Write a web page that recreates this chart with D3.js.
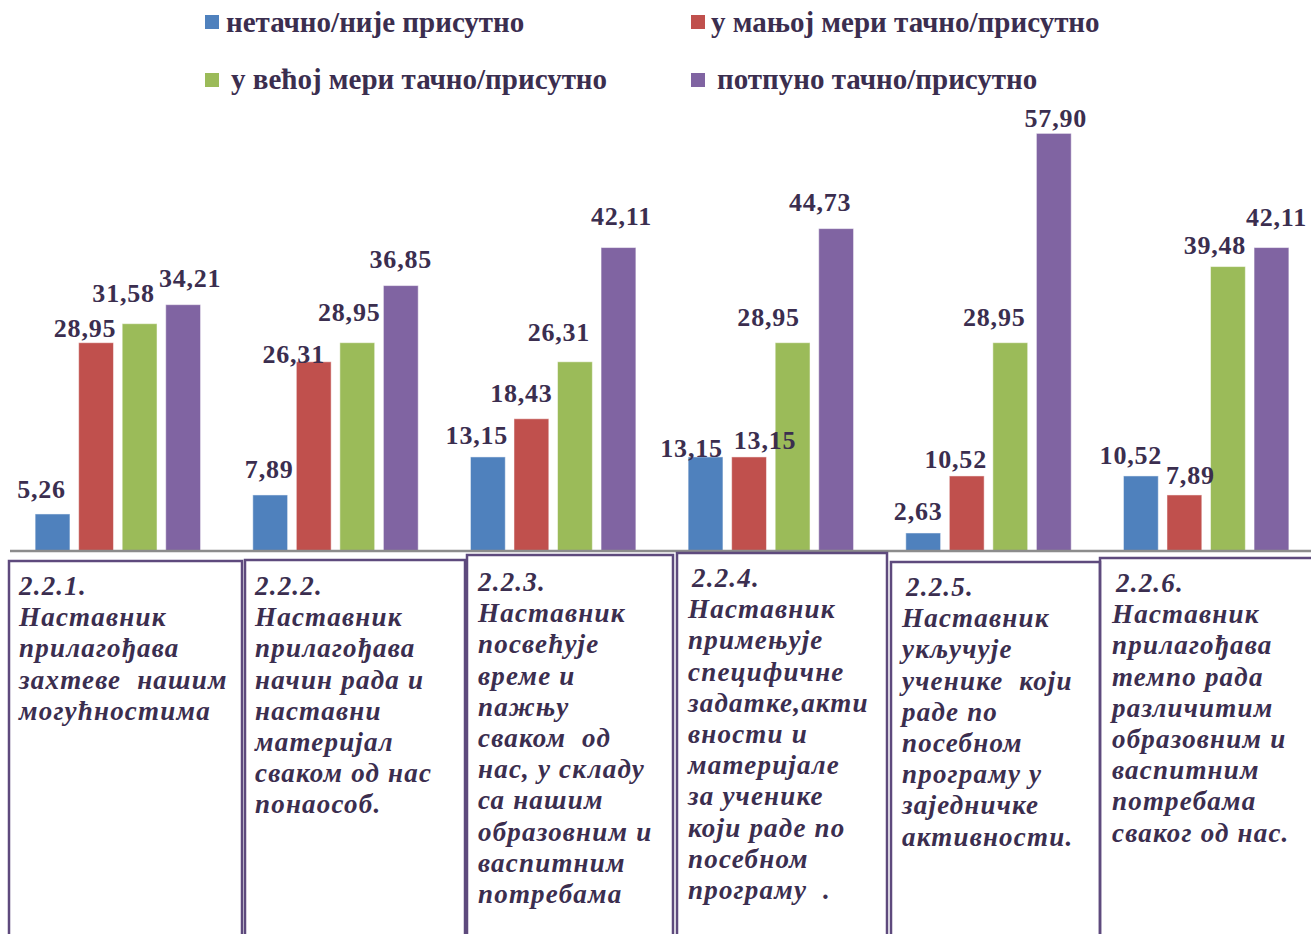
<!DOCTYPE html>
<html lang="ru">
<head>
<meta charset="UTF-8">
<title>Прилагођавање наставе</title>
<script src="https://d3js.org/d3.v7.min.js"></script>
<style>
  body { margin: 0; background: #fff; }
  svg { display: block; }
  text { font-family: "Liberation Serif", "DejaVu Serif", serif; fill: #3b2e4f; }
</style>
</head>
<body>
<svg width="1311" height="934" lang="ru"></svg>
<script>
// categories (item codes) and the four answer series
const categories = ["2.2.1.", "2.2.2.", "2.2.3.", "2.2.4.", "2.2.5.", "2.2.6."];
const seriesNames = [
  "нетачно/није присутно",
  "у мањој мери тачно/присутно",
  "у већој мери тачно/присутно",
  "потпуно тачно/присутно"
];
const netacno  = [5.26, 7.89, 13.15, 13.15, 2.63, 10.52];
const manjoj   = [28.95, 26.31, 18.43, 13.15, 10.52, 7.89];
const vecoj    = [31.58, 28.95, 26.31, 28.95, 28.95, 39.48];
const potpuno  = [34.21, 36.85, 42.11, 44.73, 57.90, 42.11];

// statement text under each group, one entry per line
const statements = [
  ["Наставник", "прилагођава", "захтеве  нашим", "могућностима"],
  ["Наставник", "прилагођава", "начин рада и", "наставни", "материјал", "сваком од нас", "понаособ."],
  ["Наставник", "посвећује", "време и", "пажњу", "сваком  од", "нас, у складу", "са нашим", "образовним и", "васпитним", "потребама"],
  ["Наставник", "примењује", "специфичне", "задатке,акти", "вности и", "материјале", "за ученике", "који раде по", "посебном", "програму  ."],
  ["Наставник", "укључује", "ученике  који", "раде по", "посебном", "програму у", "заједничке", "активности."],
  ["Наставник", "прилагођава", "темпо рада", "различитим", "образовним и", "васпитним", "потребама", "сваког од нас."]
];

const colors = ["#4f81bd", "#c0504d", "#9bbb59", "#8064a2"];

// hand placed label nudges from the original (dx, gap above bar top)
const labelDx  = [[-11, -1, -11, -14, -5, -10], [-11, -20, -10, 16, -11, 6], [-16, -8, -16, -24, -16, -13], [7, 0, 3, -16, 2, 5]];
const labelGap = [[16, 17, 13, 0, 13, 12], [6, -1, 17, 8, 8, 11], [22, 22, 21, 17, 17, 13], [18, 18, 23, 18, 6, 22]];

// text boxes under the axis: left, top, right, text x, first baseline
const boxes = [
  [9, 561, 242, 19, 595],
  [245, 560, 465, 255, 595],
  [467, 555, 673, 478, 591],
  [677, 553, 887, 688, 587],
  [891, 562, 1100, 902, 596],
  [1100, 558, 1322, 1112, 592]
];

const values = [netacno, manjoj, vecoj, potpuno];
const svg = d3.select("svg");

const x0 = d3.scaleBand().domain(categories).range([9, 1315]).paddingInner(0.24).paddingOuter(0.12);
const x1 = d3.scaleBand().domain(d3.range(4)).range([0, x0.bandwidth()]).paddingInner(0.2);
const y = d3.scaleLinear().domain([0, 60]).range([552, 118.2]);

const fmt = v => v.toFixed(2).replace(".", ",");

const rows = [];
categories.forEach((c, ci) => {
  values.forEach((arr, si) => rows.push({ c, ci, si, v: arr[ci] }));
});

// bars
svg.append("g").selectAll("rect")
  .data(rows).join("rect")
  .attr("x", d => x0(d.c) + x1(d.si))
  .attr("y", d => y(d.v))
  .attr("width", x1.bandwidth())
  .attr("height", d => y(0) - y(d.v))
  .attr("fill", d => colors[d.si])
  .attr("stroke", "#ffffff")
  .attr("stroke-opacity", 0.5)
  .attr("stroke-width", 1);

// axis baseline
const xAxis = d3.axisBottom(x0).tickSize(0).tickFormat("");
svg.append("g")
  .attr("transform", "translate(0,551)")
  .call(xAxis)
  .call(g => g.select(".domain").attr("d", "M10,0H1311").attr("stroke", "#8c8c8c").attr("stroke-width", 2.5));

// value labels
svg.append("g").selectAll("text")
  .data(rows).join("text")
  .attr("x", d => x0(d.c) + x1(d.si) + x1.bandwidth() / 2 + labelDx[d.si][d.ci])
  .attr("y", d => y(d.v) - labelGap[d.si][d.ci])
  .attr("text-anchor", "middle")
  .attr("font-size", 26)
  .attr("font-weight", "bold")
  .attr("letter-spacing", 0.8)
  .text(d => fmt(d.v));

// legend
const legendPos = [[205, 15, 226, 32], [691, 15, 711, 32], [205, 73, 231, 89], [691, 73, 717, 89]];
const lg = svg.append("g").selectAll("g").data(seriesNames).join("g");
lg.append("rect")
  .attr("x", (d, i) => legendPos[i][0])
  .attr("y", (d, i) => legendPos[i][1])
  .attr("width", 14).attr("height", 14)
  .attr("fill", (d, i) => colors[i]);
lg.append("text")
  .attr("x", (d, i) => legendPos[i][2])
  .attr("y", (d, i) => legendPos[i][3])
  .attr("font-size", 29)
  .attr("font-weight", "bold")
  .text(d => d);

// statement boxes
const bx = svg.append("g").selectAll("g").data(boxes).join("g");
bx.append("rect")
  .attr("x", d => d[0])
  .attr("y", d => d[1])
  .attr("width", d => d[2] - d[0])
  .attr("height", d => 950 - d[1])
  .attr("fill", "none")
  .attr("stroke", "#5e4a7d")
  .attr("stroke-width", 2.5);
bx.append("text")
  .attr("font-size", 27)
  .attr("font-weight", "bold")
  .attr("font-style", "italic")
  .attr("letter-spacing", 1.2)
  .each(function(d, i) {
    const t = d3.select(this);
    const lines = [categories[i]].concat(statements[i]);
    lines.forEach((ln, li) => {
      t.append("tspan")
        .attr("x", d[3] + (li === 0 && i >= 3 ? 4 : 0))
        .attr("y", d[4] + li * 31.2)
        .attr("xml:space", "preserve")
        .text(ln);
    });
  });
</script>
</body>
</html>
